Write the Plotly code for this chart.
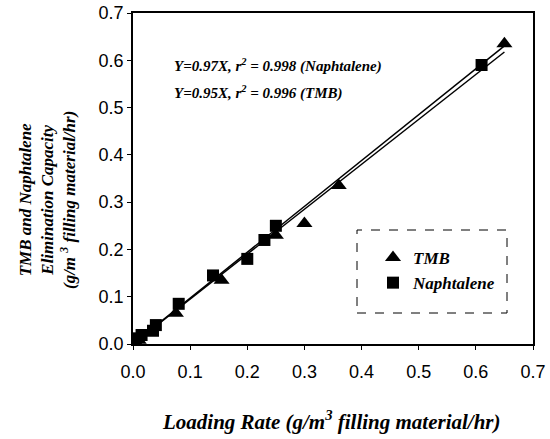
import plotly.graph_objects as go

# Data
tmb_x = [0.0, 0.01, 0.03, 0.075, 0.155, 0.25, 0.30, 0.36, 0.65]
tmb_y = [0.0, 0.008, 0.025, 0.065, 0.135, 0.23, 0.255, 0.335, 0.635]
nap_x = [0.0, 0.005, 0.015, 0.035, 0.04, 0.08, 0.14, 0.20, 0.23, 0.25, 0.61]
nap_y = [0.003, 0.012, 0.019, 0.028, 0.04, 0.085, 0.145, 0.18, 0.22, 0.25, 0.59]
fit_slopes = {"Naphtalene": 0.97, "TMB": 0.95}
fit_x_range = [0.0, 0.65]
x_ticks = [0.0, 0.1, 0.2, 0.3, 0.4, 0.5, 0.6, 0.7]
y_ticks = [0.0, 0.1, 0.2, 0.3, 0.4, 0.5, 0.6, 0.7]

serif = dict(family="Liberation Serif", color="black", style="italic", weight="bold")

fig = go.Figure()
for name, k in fit_slopes.items():
    fig.add_trace(go.Scatter(
        x=fit_x_range, y=[k * v for v in fit_x_range], mode="lines",
        line=dict(color="black", width=1.5), showlegend=False, hoverinfo="skip"))

fig.add_trace(go.Scatter(
    x=tmb_x, y=tmb_y, mode="markers", name="TMB",
    marker=dict(symbol="triangle-up", size=14, color="black")))
fig.add_trace(go.Scatter(
    x=nap_x, y=nap_y, mode="markers", name="Naphtalene",
    marker=dict(symbol="square", size=12, color="black")))

axis_common = dict(
    showgrid=False, zeroline=False, showline=True, linecolor="black",
    linewidth=1.5, mirror=True, ticks="outside", ticklen=4, tickcolor="black",
    tickfont=dict(family="Liberation Sans", size=18, color="black"),
    tickformat=".1f", automargin=False, ticklabeloverflow="allow",
)
fig.update_xaxes(range=[0, 0.7], tickvals=x_ticks, ticklabelstandoff=7, **axis_common)
fig.update_yaxes(range=[0, 0.7], tickvals=y_ticks, ticklabelstandoff=0, **axis_common)

fig.add_annotation(
    x=0.068, y=0.59, xref="x", yref="y", xanchor="left", yanchor="middle", showarrow=False,
    text="Y=0.97X, r<sup>2</sup> = 0.998 (Naphtalene)", font=dict(size=15, **serif))
fig.add_annotation(
    x=0.068, y=0.531, xref="x", yref="y", xanchor="left", yanchor="middle", showarrow=False,
    text="Y=0.95X, r<sup>2</sup> = 0.996 (TMB)", font=dict(size=15, **serif))

fig.add_annotation(
    x=0.495, y=-0.23, xref="paper", yref="paper", xanchor="center", yanchor="middle",
    showarrow=False,
    text="Loading Rate (g/m<sup>3</sup> filling material/hr)", font=dict(size=21, **serif))
fig.add_annotation(
    x=-0.215, y=0.435, xref="paper", yref="paper", xanchor="center", yanchor="middle",
    showarrow=False, textangle=-90,
    text="TMB and Naphtalene<br>Elimination Capacity<br>(g/m <sup>3</sup> filling material/hr)",
    font=dict(size=17, **serif))

# dashed legend frame
fig.add_shape(type="rect", xref="paper", yref="paper",
              x0=(357 - 133) / 400, x1=(507 - 133) / 400,
              y0=(344 - 313) / 331, y1=(344 - 230) / 331,
              line=dict(color="black", width=1, dash="dash"))

fig.update_layout(
    width=550, height=439,
    margin=dict(l=133, r=17, t=13, b=95, autoexpand=False),
    paper_bgcolor="white", plot_bgcolor="white",
    legend=dict(x=(373 - 133) / 400, y=(344 - 240) / 331, xanchor="left", yanchor="top",
                bgcolor="rgba(0,0,0,0)", borderwidth=0,
                font=dict(size=17, **serif), tracegroupgap=0),
)

fig.write_html("out.html", config={"displayModeBar": False},
               post_script="document.body.style.margin='0';document.body.style.overflow='hidden';")
